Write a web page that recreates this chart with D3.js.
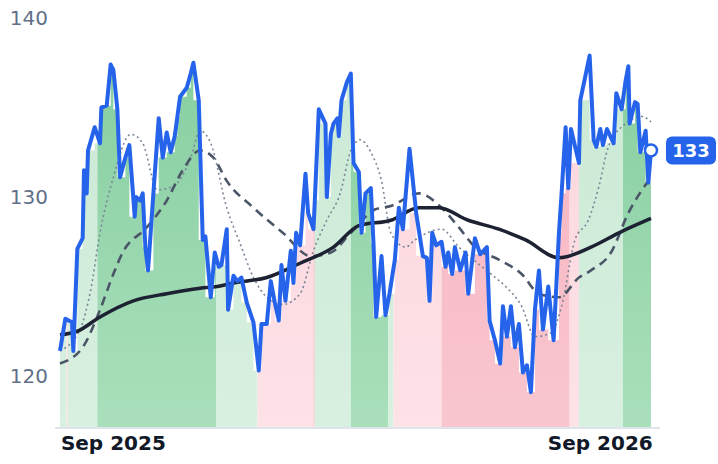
<!DOCTYPE html>
<html><head><meta charset="utf-8">
<script src="https://cdn.jsdelivr.net/npm/d3@7"></script>
<style>body{margin:0;background:#fff}svg{display:block}</style>
</head><body><svg id="c" width="718" height="464"></svg>
<script>
const startDate = "2025-07-23";
const priceDays = [0,2,4,9,10,13,17,18,20,21,26,30,31,35,38,40,43,45,49,52,56,57,60,62,64,66,70,74,77,80,83,86,88,90,95,98,100,104,107,109,113,116,119,121,125,126,130,133,136,140,145,149,151,155,158,161,164,166,169,173,175,177,180,184,186,190,191,194,199,200,203,205,208,209,211,215,218,220,224,
226,229,233,235,237,241,244,247,251,254,257,262,267,272,275,277,279,282,286,289,291,294,296,300,304,306,311,315,320,322,326,330,332,335,338,341,344,347,350,353,356,359,362,366,370,374,376,379,381,383,389,390,397,400,402,405,407,410,415,417,421,424,426,427,431,433,435,439,441,443];
const priceValues = [121.4,122.3,123.2,123.0,121.4,127.1,127.7,131.5,130.2,132.6,133.9,133.0,135.0,135.1,137.4,137.1,134.9,131.1,132.2,132.9,128.9,130.0,129.8,130.2,127.2,125.9,130.2,134.4,132.2,133.6,132.5,133.4,134.5,135.6,136.1,136.9,137.5,135.4,127.6,127.8,124.4,126.9,126.1,126.2,128.2,123.7,125.6,125.3,125.5,124.1,123.0,120.3,122.9,122.9,125.3,124.1,123.1,126.2,124.2,127.0,125.2,128.0,127.3,131.3,129.1,128.2,129.8,134.9,134.1,130.0,133.5,134.1,134.4,133.4,135.4,136.4,136.9,131.9,131.4,
128.0,130.2,130.5,127.4,123.3,126.7,123.4,124.6,126.5,129.4,128.2,132.7,129.1,126.7,126.6,124.2,128.0,127.3,127.5,126.1,126.9,125.7,127.2,125.9,126.9,124.6,127.7,126.8,127.2,123.1,122.0,120.7,123.9,122.2,123.9,121.6,122.9,120.2,120.6,119.1,123.7,125.9,122.6,125.0,122.0,128.0,130.2,133.9,130.5,133.8,131.9,135.4,137.9,133.2,132.8,133.8,132.9,133.8,133.0,135.8,134.9,136.5,137.3,134.1,135.3,135.2,132.5,133.7,130.8,132.6];
const shortDays = [0,15,23,30,40,53,62,73,85,98,105,113,125,135,145,155,167,180,190,200,210,218,225,233,241,248,259,266,286,299,323,334,346,356,368,376,386,396,404,411,424,436,443];
const shortValues = [121.4,122.6,124.8,128.0,131.1,133.5,133.0,130.4,130.6,132.2,133.7,133.0,129.4,127.4,125.5,124.4,124.0,124.6,127.0,128.7,130.2,132.6,133.2,132.5,130.9,128.0,127.2,127.6,128.2,127.2,125.7,125.0,123.9,122.2,122.4,123.9,127.6,128.7,130.6,132.8,134.1,134.5,134.2];
const midDays = [0,17,30,40,47,65,80,92,105,115,125,145,167,188,203,218,236,248,269,286,299,311,329,346,359,374,389,398,413,426,443];
const midValues = [120.7,121.6,123.7,125.7,126.9,128.3,129.8,131.5,132.6,132.2,130.9,129.4,128.0,126.7,126.9,128.0,129.3,129.5,130.2,129.4,128.3,127.2,126.5,125.7,124.6,124.4,125.5,125.9,126.9,129.1,131.1];
const longDays = [0,13,30,55,80,105,118,130,155,180,205,224,248,269,284,306,329,349,374,398,419,443];
const longValues = [122.3,122.5,123.3,124.2,124.6,124.9,125.0,125.2,125.5,126.3,127.2,128.4,128.7,129.4,129.4,128.7,128.2,127.6,126.6,127.2,128.0,128.8];
const regimeStart = [0,5,6,28,117,148,190,191,218,246,250,286,382,389,422];
const regimeEnd   = [5,6,28,117,148,190,191,218,246,250,286,382,389,422,443];
const regimeType  = ["lg","lp","lg","mg","lg","lp","mp","lg","mg","lg","lp","mp","lp","lg","mg"];
const yTicks = [120,130,140];
const xTicks = ["2025-09-01","2026-09-01"];
const lastLabel = "133";

const svg = d3.select("#c");
const t0 = d3.isoParse(startDate);
const day = d => d3.timeDay.offset(t0, d);
const x = d3.scaleTime().domain([day(0), day(443)]).range([60, 651]);
const y = d3.scaleLinear().domain([120, 140]).range([376, 18]);
const yBottom = 427;

const defs = svg.append("defs");
const cols = {lg:["#c9e9d4","#d8f0e0"], mg:["#85ce9f","#aadfbc"], lp:["#fbd5dc","#fde2e7"], mp:["#f7b2bf","#f9c6cf"]};
Object.entries(cols).forEach(([k,c])=>{
  const g = defs.append("linearGradient").attr("id","g"+k).attr("gradientUnits","userSpaceOnUse")
    .attr("x1",0).attr("x2",0).attr("y1",40).attr("y2",yBottom);
  g.append("stop").attr("offset","0%").attr("stop-color",c[0]);
  g.append("stop").attr("offset","100%").attr("stop-color",c[1]);
});

// background fills under price: one stepped polygon per regime
const fillG = svg.append("g");
regimeStart.forEach((s,ri)=>{
  const e = regimeEnd[ri];
  const pts = [];
  for (let i=0;i<priceDays.length-1;i++){
    const a = Math.max(priceDays[i], s), b = Math.min(priceDays[i+1], e);
    if (b <= a) continue;
    const top = y(Math.min(priceValues[i], priceValues[i+1]));
    pts.push([x(day(a)), top],[x(day(b)), top]);
  }
  if (!pts.length) return;
  const x0 = pts[0][0], x1 = pts[pts.length-1][0];
  const poly = [[x0,yBottom], ...pts, [x1,yBottom]];
  fillG.append("path").attr("d","M"+poly.map(p=>p.join(",")).join("L")+"Z")
    .attr("fill",`url(#g${regimeType[ri]})`);
});

// axes
svg.append("line").attr("x1",55).attr("x2",660).attr("y1",428).attr("y2",428).attr("stroke","#dfe4ec").attr("stroke-width",2);
svg.append("g").selectAll("text").data(yTicks).join("text")
  .attr("x",48).attr("y",d=>y(d)).attr("dy","0.35em").attr("text-anchor","end")
  .attr("font-family","DejaVu Sans").attr("font-size",20).attr("fill","#5f6f88").text(d=>d);
svg.append("g").selectAll("text").data(xTicks).join("text")
  .attr("x",d=>x(d3.isoParse(d))).attr("y",450).attr("text-anchor","middle")
  .attr("font-family","DejaVu Sans").attr("font-weight","bold").attr("font-size",20).attr("fill","#111827")
  .text(d=>d3.timeFormat("%b %Y")(d3.isoParse(d)));

const line = (ds,vs,curve)=>d3.line().x((d,i)=>x(day(ds[i]))).y((d,i)=>y(vs[i])).curve(curve)(vs);
svg.append("path").attr("d",line(shortDays,shortValues,d3.curveMonotoneX)).attr("fill","none")
  .attr("stroke","#7b8699").attr("stroke-width",1.6).attr("stroke-dasharray","2,3");
svg.append("path").attr("d",line(midDays,midValues,d3.curveMonotoneX)).attr("fill","none")
  .attr("stroke","#4b5568").attr("stroke-width",2.6).attr("stroke-dasharray","9,6");
svg.append("path").attr("d",line(longDays,longValues,d3.curveMonotoneX)).attr("fill","none")
  .attr("stroke","#1c2232").attr("stroke-width",3.5);
svg.append("path").attr("d",line(priceDays,priceValues,d3.curveLinear)).attr("fill","none")
  .attr("stroke","#2563eb").attr("stroke-width",4).attr("stroke-linejoin","round");

const li = priceDays.length-1;
const lx = x(day(priceDays[li])), ly = y(priceValues[li]);
svg.append("circle").attr("cx",lx).attr("cy",ly).attr("r",6).attr("fill","#fff").attr("stroke","#2563eb").attr("stroke-width",2.5);
svg.append("rect").attr("x",666).attr("y",ly-14).attr("width",50).attr("height",28).attr("rx",6).attr("fill","#2563eb");
svg.append("text").attr("x",691).attr("y",ly).attr("dy","0.36em").attr("text-anchor","middle")
  .attr("font-family","DejaVu Sans").attr("font-weight","bold").attr("font-size",18).attr("fill","#fff").text(lastLabel);
</script></body></html>
